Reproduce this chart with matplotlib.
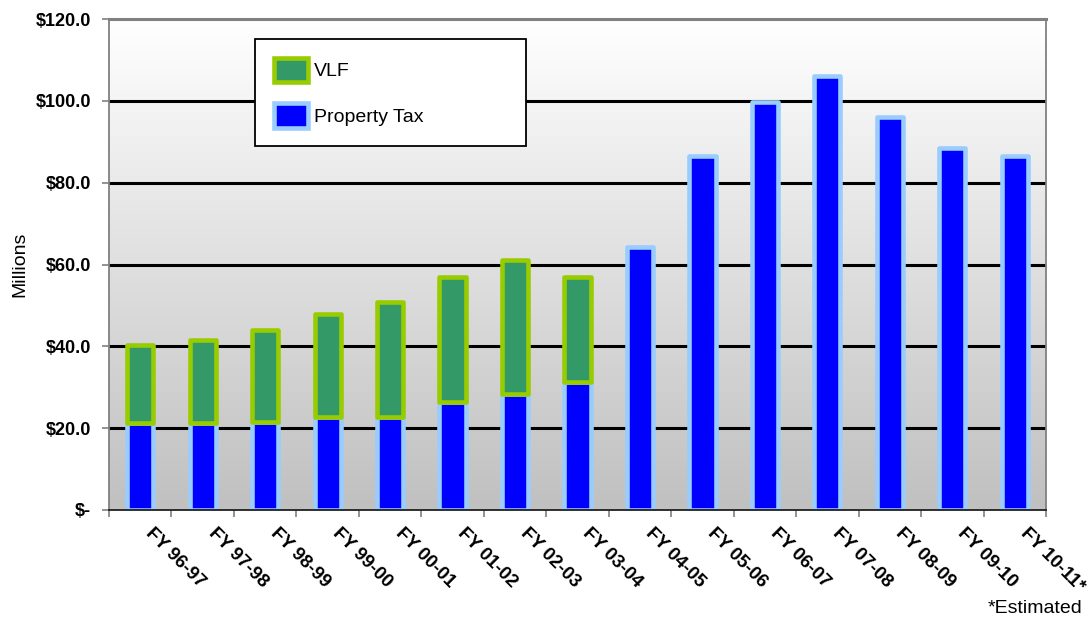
import numpy as np
import matplotlib
matplotlib.use("Agg")
import matplotlib.pyplot as plt
from matplotlib.colors import LinearSegmentedColormap
from matplotlib.transforms import ScaledTranslation
from matplotlib.patches import Patch

plt.rcParams['font.family'] = ['Liberation Sans', 'DejaVu Sans']

years = ["FY 96-97", "FY 97-98", "FY 98-99", "FY 99-00", "FY 00-01", "FY 01-02",
         "FY 02-03", "FY 03-04", "FY 04-05", "FY 05-06", "FY 06-07", "FY 07-08",
         "FY 08-09", "FY 09-10", "FY 10-11*"]
property_tax = [21.2, 21.2, 21.6, 22.7, 22.7, 26.3, 28.3, 31.2,
                64.3, 86.4, 99.7, 106.1, 96.1, 88.4, 86.4]
vlf = [19.1, 20.4, 22.5, 25.3, 28.2, 30.6, 32.7, 25.7]
y_ticks = [0, 20, 40, 60, 80, 100, 120]
y_tick_labels = ["$-", "$20.0", "$40.0", "$60.0", "$80.0", "$100.0", "$120.0"]

W, H, DPI = 1089, 621, 100
fig = plt.figure(figsize=(W / DPI, H / DPI), dpi=DPI)
fig.patch.set_facecolor("white")
ax = fig.add_axes([109 / W, 1 - 510 / H, (1046 - 109) / W, (510 - 19) / H])

n = len(years)
x = np.arange(n)

# vertical gradient background: white at the top fading to silver at the bottom
grad = np.linspace(0, 1, 256).reshape(-1, 1)
cmap = LinearSegmentedColormap.from_list("bg", ["#ffffff", "#c0c0c0"])
ax.imshow(grad, cmap=cmap, aspect="auto", origin="upper",
          extent=(-0.5, n - 0.5, 0, 120), zorder=0, interpolation="bilinear")
ax.set_xlim(-0.5, n - 0.5)
ax.set_ylim(0, 120)

# horizontal gridlines
for v in y_ticks[1:-1]:
    ax.axhline(v, color="black", lw=2.2, zorder=1)

bw = 0.42
edge_lw = 3.3
ax.bar(x, property_tax, width=bw, color="#0000ff", edgecolor="#99ccff",
       linewidth=edge_lw, zorder=2, joinstyle="round", label="Property Tax")
ax.bar(x[:len(vlf)], vlf, width=bw, bottom=property_tax[:len(vlf)],
       color="#339966", edgecolor="#99cc00", linewidth=edge_lw, zorder=3,
       joinstyle="round", label="VLF")

# axes frame
for side in ("left", "right", "top"):
    ax.spines[side].set_color("#808080")
ax.spines["left"].set_linewidth(1.3)
ax.spines["right"].set_linewidth(1.3)
ax.spines["top"].set_linewidth(2.2)
ax.spines["bottom"].set_color("#202020")
ax.spines["bottom"].set_linewidth(1.3)
for s in ax.spines.values():
    s.set_zorder(4)

ax.set_yticks(y_ticks)
ax.set_yticklabels(y_tick_labels, fontsize=13, fontweight="bold")
ax.tick_params(axis="y", direction="out", length=5, width=1.2, color="#808080", pad=8)

ax.set_xticks(np.arange(-0.5, n, 1.0))
ax.set_xticklabels([])
ax.tick_params(axis="x", direction="out", length=5, width=1.2, color="#808080")

# rotated category labels
offset = ScaledTranslation(14 / DPI, -15 / DPI, fig.dpi_scale_trans)
for xi, lab in zip(x, years):
    ax.text(xi, 0, lab, transform=ax.get_xaxis_transform() + offset,
            rotation=-45, rotation_mode="anchor", ha="left", va="top",
            fontsize=13.5, fontweight="bold")

ax.set_ylabel("Millions", fontsize=14, labelpad=5)

handles = [Patch(facecolor="#339966", edgecolor="#99cc00", linewidth=edge_lw),
           Patch(facecolor="#0000ff", edgecolor="#99ccff", linewidth=edge_lw)]
leg = ax.legend(handles, ["VLF", "Property Tax"], loc="upper left",
                bbox_to_anchor=(0.156, 0.959, 0.289, 0.0), mode="expand",
                fontsize=14, frameon=True, fancybox=False, framealpha=1,
                edgecolor="black", handlelength=1.75, handleheight=1.55,
                handletextpad=0.3, labelspacing=1.1, borderpad=0.95,
                borderaxespad=0)
leg.get_frame().set_linewidth(1.3)
leg.set_zorder(5)

fig.text(1082 / W, 1 - 613 / H, "*Estimated", ha="right", va="baseline", fontsize=14)

fig.savefig("out.png", dpi=DPI)
